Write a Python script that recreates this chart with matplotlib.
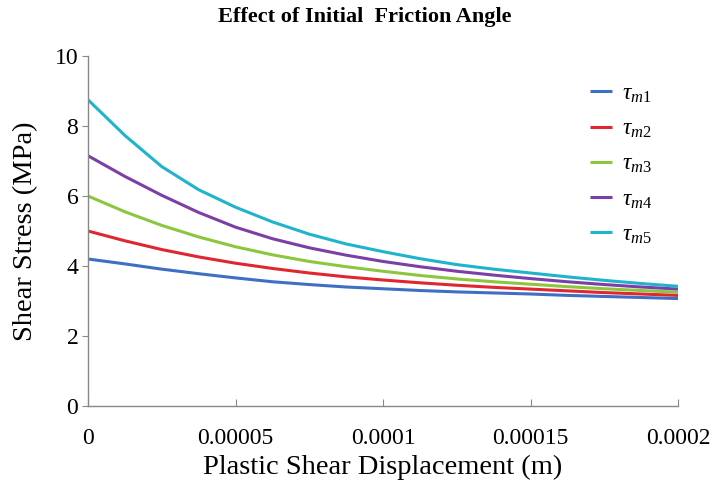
import matplotlib
matplotlib.use("Agg")
import matplotlib.pyplot as plt

plt.rcParams['font.family'] = ['Liberation Serif', 'DejaVu Serif']
plt.rcParams['mathtext.fontset'] = 'custom'
plt.rcParams['mathtext.rm'] = 'Liberation Serif'
plt.rcParams['mathtext.it'] = 'Liberation Serif:italic'

displacement = [0, 0.0000125, 0.000025, 0.0000375, 0.00005, 0.0000625, 0.000075, 0.0000875,
                0.0001, 0.0001125, 0.000125, 0.0001375, 0.00015, 0.0001625, 0.000175, 0.0001875, 0.0002]
tau_m1 = [4.20, 4.06, 3.91, 3.78, 3.66, 3.55, 3.47, 3.40, 3.35, 3.30, 3.26, 3.23, 3.20, 3.16, 3.13, 3.10, 3.07]
tau_m2 = [5.00, 4.72, 4.47, 4.26, 4.08, 3.93, 3.80, 3.69, 3.60, 3.52, 3.45, 3.39, 3.34, 3.29, 3.24, 3.20, 3.16]
tau_m3 = [6.00, 5.55, 5.16, 4.83, 4.55, 4.32, 4.13, 3.98, 3.85, 3.73, 3.63, 3.55, 3.48, 3.41, 3.35, 3.30, 3.25]
tau_m4 = [7.15, 6.56, 6.02, 5.53, 5.11, 4.78, 4.52, 4.31, 4.13, 3.98, 3.85, 3.74, 3.64, 3.55, 3.47, 3.40, 3.34]
tau_m5 = [8.75, 7.73, 6.84, 6.18, 5.68, 5.26, 4.91, 4.63, 4.41, 4.21, 4.04, 3.91, 3.80, 3.69, 3.59, 3.50, 3.42]
labels = [r'$\tau_{m1}$', r'$\tau_{m2}$', r'$\tau_{m3}$', r'$\tau_{m4}$', r'$\tau_{m5}$']
colors = ['#3f6fc2', '#e0262f', '#8cc63f', '#7b3fa6', '#1fb3cc']
xticks = [0, 0.00005, 0.0001, 0.00015, 0.0002]
xticklabels = ['0', '0.00005', '0.0001', '0.00015', '0.0002']
yticks = [0, 2, 4, 6, 8, 10]

fig = plt.figure(figsize=(7.12, 4.91), dpi=100)
ax = fig.add_axes([88/712, 1-406/491, (678-88)/712, (406-56)/491])

for ys, lab, c in zip([tau_m1, tau_m2, tau_m3, tau_m4, tau_m5], labels, colors):
    ax.plot(displacement, ys, color=c, lw=2.2, label=lab, solid_capstyle='butt')

ax.set_xlim(0, 0.0002)
ax.set_ylim(0, 10)
ax.set_xticks(xticks)
ax.set_xticklabels(xticklabels, fontsize=17)
ax.set_yticks(yticks)
ax.set_yticklabels([str(v) for v in yticks], fontsize=17)
ax.tick_params(axis='x', direction='in', length=5, color='#888888', pad=16)
ax.tick_params(axis='y', direction='out', length=4, color='#888888', pad=3)
for s in ['top', 'right']:
    ax.spines[s].set_visible(False)
for s in ['left', 'bottom']:
    ax.spines[s].set_color('#888888')
    ax.spines[s].set_linewidth(1.0)

ax.set_xlabel('Plastic Shear Displacement (m)', fontsize=20.5, labelpad=4)
ax.set_ylabel('Shear Stress (MPa)', fontsize=20.5, labelpad=12)
fig.text(365/712, 1-17/491, 'Effect of Initial  Friction Angle', ha='center', va='center',
         fontsize=16, fontweight='bold')

leg = ax.legend(loc='upper left', bbox_to_anchor=((590-88)/590, (406-83)/350),
                frameon=False, fontsize=17, handlelength=0.95, labelspacing=0.57,
                handletextpad=0.4, borderaxespad=0, borderpad=0)

fig.savefig('out.png', dpi=100)
